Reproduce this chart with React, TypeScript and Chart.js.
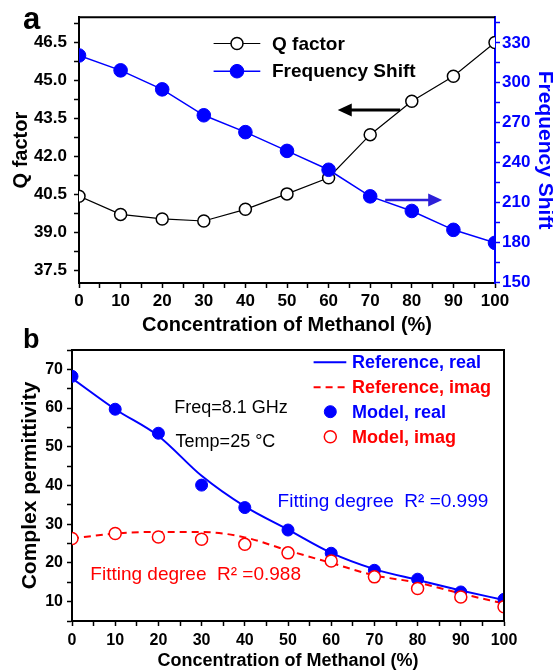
import React, { useEffect, useRef } from 'react';
import { Chart, registerables } from 'chart.js';

Chart.register(...registerables);

const FONT = "'Liberation Sans', Arial, Helvetica, sans-serif";
const BLUE = '#0000ff';
const RED = '#ff0000';
const ARROW_BLUE = '#2d1fd8';

// ---------- Panel a data ----------
const concentrationA = [0, 10, 20, 30, 40, 50, 60, 70, 80, 90, 100];
const qFactor = [40.43, 39.71, 39.53, 39.45, 39.91, 40.52, 41.16, 42.86, 44.18, 45.17, 46.5];
const freqShift = [320.5, 309.3, 295.0, 275.5, 262.8, 248.7, 234.5, 214.5, 203.5, 189.3, 179.5];
const xTickLabels = [0, 10, 20, 30, 40, 50, 60, 70, 80, 90, 100];
const qTickLabels = [37.5, 39.0, 40.5, 42.0, 43.5, 45.0, 46.5];
const freqTickLabels = [150, 180, 210, 240, 270, 300, 330];

// ---------- Panel b data ----------
const concentrationB = [0, 10, 20, 30, 40, 50, 60, 70, 80, 90, 100];
const referenceReal = [67.7, 59.7, 52.8, 42.5, 34.6, 28.6, 22.6, 18.4, 15.6, 12.9, 10.4];
const referenceImag = [26.3, 27.6, 28.0, 28.0, 26.6, 23.2, 20.0, 16.8, 14.9, 12.1, 9.5];
const modelReal = [68.2, 59.7, 53.5, 40.1, 34.3, 28.5, 22.5, 18.1, 15.8, 12.5, 10.6];
const modelImag = [26.3, 27.6, 26.7, 26.1, 24.8, 22.6, 20.5, 16.4, 13.4, 11.2, 8.7];
const permTickLabels = [10, 20, 30, 40, 50, 60, 70];

function buildTicks(min: number, max: number, majors: number[]) {
  const half = (majors[1] - majors[0]) / 2;
  const out: number[] = [];
  let v = majors[0];
  while (v - half >= min - 1e-9) v -= half;
  for (; v <= max + 1e-9; v += half) out.push(+v.toFixed(4));
  return out;
}

function isMajor(v: number, majors: number[]) {
  return majors.some((m) => Math.abs(m - v) < 1e-6);
}

function pts(xs: number[], ys: number[]) {
  return xs.map((x, i) => ({ x, y: ys[i] }));
}

function drawArrow(ctx: CanvasRenderingContext2D, x1: number, x2: number, y: number, color: string, width: number) {
  const dir = Math.sign(x2 - x1);
  const head = 14;
  const half = 6.5;
  ctx.save();
  ctx.strokeStyle = color;
  ctx.fillStyle = color;
  ctx.lineWidth = width;
  ctx.beginPath();
  ctx.moveTo(x1, y);
  ctx.lineTo(x2 - dir * head + dir, y);
  ctx.stroke();
  ctx.beginPath();
  ctx.moveTo(x2, y);
  ctx.lineTo(x2 - dir * head, y - half);
  ctx.lineTo(x2 - dir * head, y + half);
  ctx.closePath();
  ctx.fill();
  ctx.restore();
}

function drawMarker(ctx: CanvasRenderingContext2D, x: number, y: number, r: number, fill: string, stroke: string, lw: number) {
  ctx.beginPath();
  ctx.arc(x, y, r, 0, Math.PI * 2);
  ctx.fillStyle = fill;
  ctx.fill();
  ctx.lineWidth = lw;
  ctx.strokeStyle = stroke;
  ctx.stroke();
}

const panelAPlugin = {
  id: 'panelADecor',
  afterDraw(chart: any) {
    const { ctx, chartArea: ca, scales } = chart;
    ctx.save();
    // top frame
    ctx.strokeStyle = '#000';
    ctx.lineWidth = 2;
    ctx.beginPath();
    ctx.moveTo(ca.left - 1, ca.top);
    ctx.lineTo(ca.right, ca.top);
    ctx.stroke();

    // legend
    const rows = [
      { text: 'Q factor', line: '#000', fill: '#fff', stroke: '#000', r: 6, lw: 1.5, y: ca.top + 26.3 },
      { text: 'Frequency Shift', line: BLUE, fill: BLUE, stroke: BLUE, r: 6.8, lw: 1, y: ca.top + 54 },
    ];
    rows.forEach((row) => {
      ctx.strokeStyle = row.line;
      ctx.lineWidth = row.line === BLUE ? 1.5 : 1.2;
      ctx.beginPath();
      ctx.moveTo(ca.left + 134.6, row.y);
      ctx.lineTo(ca.left + 181.3, row.y);
      ctx.stroke();
      drawMarker(ctx, ca.left + 158, row.y, row.r, row.fill, row.stroke, row.lw);
      ctx.fillStyle = '#000';
      ctx.font = `bold 19px ${FONT}`;
      ctx.textBaseline = 'middle';
      ctx.textAlign = 'left';
      ctx.fillText(row.text, ca.left + 193, row.y + 1);
    });

    // arrows (in data coordinates)
    const x = scales.x;
    drawArrow(ctx, x.getPixelForValue(77.2), x.getPixelForValue(62.2), scales.y.getPixelForValue(43.83), '#000', 3);
    drawArrow(ctx, x.getPixelForValue(73.6), x.getPixelForValue(87.3), scales.y1.getPixelForValue(211.8), ARROW_BLUE, 2.6);

    // panel letter
    ctx.fillStyle = '#000';
    ctx.font = `bold 31px ${FONT}`;
    ctx.textBaseline = 'alphabetic';
    ctx.textAlign = 'left';
    ctx.fillText('a', 23, 28.5);
    ctx.restore();
  },
};

const panelBPlugin = {
  id: 'panelBDecor',
  afterDraw(chart: any) {
    const { ctx, chartArea: ca } = chart;
    ctx.save();
    ctx.strokeStyle = '#000';
    ctx.lineWidth = 2;
    ctx.beginPath();
    ctx.moveTo(ca.left - 1, ca.top);
    ctx.lineTo(ca.right, ca.top);
    ctx.lineTo(ca.right, ca.bottom + 1);
    ctx.stroke();

    // legend
    const lx0 = ca.left + 241.6;
    const lx1 = ca.left + 274.3;
    const mx = ca.left + 258.3;
    const tx = ca.left + 280;
    ctx.font = `bold 18px ${FONT}`;
    ctx.textBaseline = 'middle';
    ctx.textAlign = 'left';

    let y = ca.top + 12.3;
    ctx.strokeStyle = BLUE;
    ctx.lineWidth = 2;
    ctx.setLineDash([]);
    ctx.beginPath(); ctx.moveTo(lx0, y); ctx.lineTo(lx1, y); ctx.stroke();
    ctx.fillStyle = BLUE;
    ctx.fillText('Reference, real', tx, y + 1);

    y = ca.top + 37.3;
    ctx.strokeStyle = RED;
    ctx.setLineDash([7, 5]);
    ctx.beginPath(); ctx.moveTo(lx0, y); ctx.lineTo(lx1, y); ctx.stroke();
    ctx.setLineDash([]);
    ctx.fillStyle = RED;
    ctx.fillText('Reference, imag', tx, y + 1);

    y = ca.top + 61.7;
    drawMarker(ctx, mx, y, 6, BLUE, BLUE, 1);
    ctx.fillStyle = BLUE;
    ctx.fillText('Model, real', tx, y + 1);

    y = ca.top + 86.7;
    drawMarker(ctx, mx, y, 6, '#fff', RED, 1.5);
    ctx.fillStyle = RED;
    ctx.fillText('Model, imag', tx, y + 1);

    // annotations
    ctx.textBaseline = 'alphabetic';
    ctx.fillStyle = '#000';
    ctx.font = `18px ${FONT}`;
    ctx.fillText('Freq=8.1 GHz', ca.left + 102.3, ca.top + 63.3);
    ctx.fillText('Temp=25 \u00B0C', ca.left + 103.6, ca.top + 97.3);

    ctx.font = `19px ${FONT}`;
    ctx.fillStyle = BLUE;
    ctx.fillText('Fitting degree  R\u00B2 =0.999', ca.left + 205.6, ca.top + 156.7);
    ctx.fillStyle = RED;
    ctx.fillText('Fitting degree  R\u00B2 =0.988', ca.left + 18.3, ca.top + 230);

    // panel letter
    ctx.fillStyle = '#000';
    ctx.font = `bold 27px ${FONT}`;
    ctx.fillText('b', 23, 23.3);
    ctx.restore();
  },
};

function makeTickOpts(size: number, color: string, padding: number, fmt: (v: number) => string) {
  return {
    autoSkip: false,
    maxRotation: 0,
    minRotation: 0,
    padding,
    color,
    font: { family: FONT, size, weight: 'bold' as const },
    callback: fmt,
  };
}

function gridOpts(color: string) {
  return {
    drawOnChartArea: false,
    drawTicks: true,
    tickLength: 5,
    tickWidth: 1.5,
    tickColor: color,
    color,
  };
}

export default function App() {
  const refA = useRef<HTMLCanvasElement | null>(null);
  const refB = useRef<HTMLCanvasElement | null>(null);

  useEffect(() => {
    const xTicks = buildTicks(0, 100, xTickLabels);
    const qTicks = buildTicks(37, 47.5, qTickLabels);
    const fTicks = buildTicks(149.3, 349.3, freqTickLabels);
    const pTicks = buildTicks(5, 75, permTickLabels);

    const chartA = new Chart(refA.current as HTMLCanvasElement, {
      type: 'line',
      data: {
        datasets: [
          {
            label: 'Frequency Shift',
            data: pts(concentrationA, freqShift),
            yAxisID: 'y1',
            borderColor: BLUE,
            backgroundColor: BLUE,
            borderWidth: 1.5,
            pointRadius: 6.8,
            pointBackgroundColor: BLUE,
            pointBorderColor: BLUE,
            pointBorderWidth: 1,
            order: 0,
          },
          {
            label: 'Q factor',
            data: pts(concentrationA, qFactor),
            yAxisID: 'y',
            borderColor: '#000',
            backgroundColor: '#fff',
            borderWidth: 1.2,
            pointRadius: 6,
            pointBackgroundColor: '#fff',
            pointBorderColor: '#000',
            pointBorderWidth: 1.5,
            order: 1,
          },
        ],
      },
      options: {
        responsive: false,
        animation: false,
        devicePixelRatio: 1,
        events: [],
        layout: { padding: { top: 16, left: 0, right: 0, bottom: 0 } },
        plugins: { legend: { display: false }, tooltip: { enabled: false } },
        scales: {
          x: {
            type: 'linear',
            position: 'bottom',
            min: 0,
            max: 100,
            afterBuildTicks: (axis: any) => { axis.ticks = xTicks.map((v) => ({ value: v })); },
            afterFit: (s: any) => { s.height = 53; },
            ticks: makeTickOpts(17, '#000', 3, (v: any) => (isMajor(v, xTickLabels) ? String(v) : '')),
            grid: gridOpts('#000'),
            border: { display: true, color: '#000', width: 2 },
            title: {
              display: true,
              text: 'Concentration of Methanol (%)',
              color: '#000',
              font: { family: FONT, size: 20, weight: 'bold', lineHeight: 1 },
              padding: { top: 0, bottom: 1 },
            },
          },
          y: {
            type: 'linear',
            position: 'left',
            min: 37,
            max: 47.5,
            afterBuildTicks: (axis: any) => { axis.ticks = qTicks.map((v) => ({ value: v })); },
            afterFit: (s: any) => { s.width = 79; },
            ticks: makeTickOpts(17, '#000', 7, (v: any) => (isMajor(v, qTickLabels) ? Number(v).toFixed(1) : '')),
            grid: gridOpts('#000'),
            border: { display: true, color: '#000', width: 2 },
            title: {
              display: true,
              text: 'Q factor',
              color: '#000',
              font: { family: FONT, size: 20, weight: 'bold', lineHeight: 1 },
              padding: { top: 11, bottom: 0 },
            },
          },
          y1: {
            type: 'linear',
            position: 'right',
            min: 149.3,
            max: 349.3,
            afterBuildTicks: (axis: any) => { axis.ticks = fTicks.map((v) => ({ value: v })); },
            afterFit: (s: any) => { s.width = 58; },
            ticks: makeTickOpts(17, BLUE, 2, (v: any) => (isMajor(v, freqTickLabels) ? String(v) : '')),
            grid: gridOpts(BLUE),
            border: { display: true, color: BLUE, width: 2 },
            title: {
              display: true,
              text: 'Frequency Shift',
              color: BLUE,
              font: { family: FONT, size: 21, weight: 'bold', lineHeight: 1 },
              padding: { top: -2, bottom: 0 },
            },
          },
        },
      } as any,
      plugins: [panelAPlugin],
    });

    const chartB = new Chart(refB.current as HTMLCanvasElement, {
      type: 'line',
      data: {
        datasets: [
          {
            label: 'Model, imag',
            data: pts(concentrationB, modelImag),
            showLine: false,
            pointRadius: 6,
            pointBackgroundColor: '#fff',
            pointBorderColor: RED,
            pointBorderWidth: 1.5,
            borderColor: RED,
            backgroundColor: '#fff',
            order: 0,
          },
          {
            label: 'Model, real',
            data: pts(concentrationB, modelReal),
            showLine: false,
            pointRadius: 6,
            pointBackgroundColor: BLUE,
            pointBorderColor: BLUE,
            pointBorderWidth: 1,
            borderColor: BLUE,
            backgroundColor: BLUE,
            order: 1,
          },
          {
            label: 'Reference, real',
            data: pts(concentrationB, referenceReal),
            borderColor: BLUE,
            backgroundColor: BLUE,
            borderWidth: 2,
            pointRadius: 0,
            cubicInterpolationMode: 'monotone',
            order: 2,
          },
          {
            label: 'Reference, imag',
            data: pts(concentrationB, referenceImag),
            borderColor: RED,
            backgroundColor: RED,
            borderWidth: 2,
            borderDash: [7, 5],
            pointRadius: 0,
            cubicInterpolationMode: 'monotone',
            order: 3,
          },
        ],
      },
      options: {
        responsive: false,
        animation: false,
        devicePixelRatio: 1,
        events: [],
        layout: { padding: { top: 25, left: 0, right: 49, bottom: 0 } },
        plugins: { legend: { display: false }, tooltip: { enabled: false } },
        scales: {
          x: {
            type: 'linear',
            position: 'bottom',
            min: 0,
            max: 100,
            afterBuildTicks: (axis: any) => { axis.ticks = xTicks.map((v) => ({ value: v })); },
            afterFit: (s: any) => { s.height = 50; },
            ticks: makeTickOpts(16, '#000', 5, (v: any) => (isMajor(v, xTickLabels) ? String(v) : '')),
            grid: gridOpts('#000'),
            border: { display: true, color: '#000', width: 2 },
            title: {
              display: true,
              text: 'Concentration of Methanol (%)',
              color: '#000',
              font: { family: FONT, size: 18, weight: 'bold', lineHeight: 1 },
              padding: { top: 0, bottom: 1 },
            },
          },
          y: {
            type: 'linear',
            position: 'left',
            min: 5,
            max: 75,
            afterBuildTicks: (axis: any) => { axis.ticks = pTicks.map((v) => ({ value: v })); },
            afterFit: (s: any) => { s.width = 72; },
            ticks: makeTickOpts(16, '#000', 4, (v: any) => (isMajor(v, permTickLabels) ? String(v) : '')),
            grid: gridOpts('#000'),
            border: { display: true, color: '#000', width: 2 },
            title: {
              display: true,
              text: 'Complex permittivity',
              color: '#000',
              font: { family: FONT, size: 21, weight: 'bold', lineHeight: 1 },
              padding: { top: 20, bottom: 0 },
            },
          },
        },
      } as any,
      plugins: [panelBPlugin],
    });

    return () => {
      chartA.destroy();
      chartB.destroy();
    };
  }, []);

  return (
    <div style={{ position: 'absolute', left: 0, top: 0, width: 553, height: 671, background: '#fff', overflow: 'hidden' }}>
      <canvas ref={refA} width={553} height={336} style={{ position: 'absolute', left: 0, top: 0 }} />
      <canvas ref={refB} width={553} height={346} style={{ position: 'absolute', left: 0, top: 325 }} />
    </div>
  );
}
